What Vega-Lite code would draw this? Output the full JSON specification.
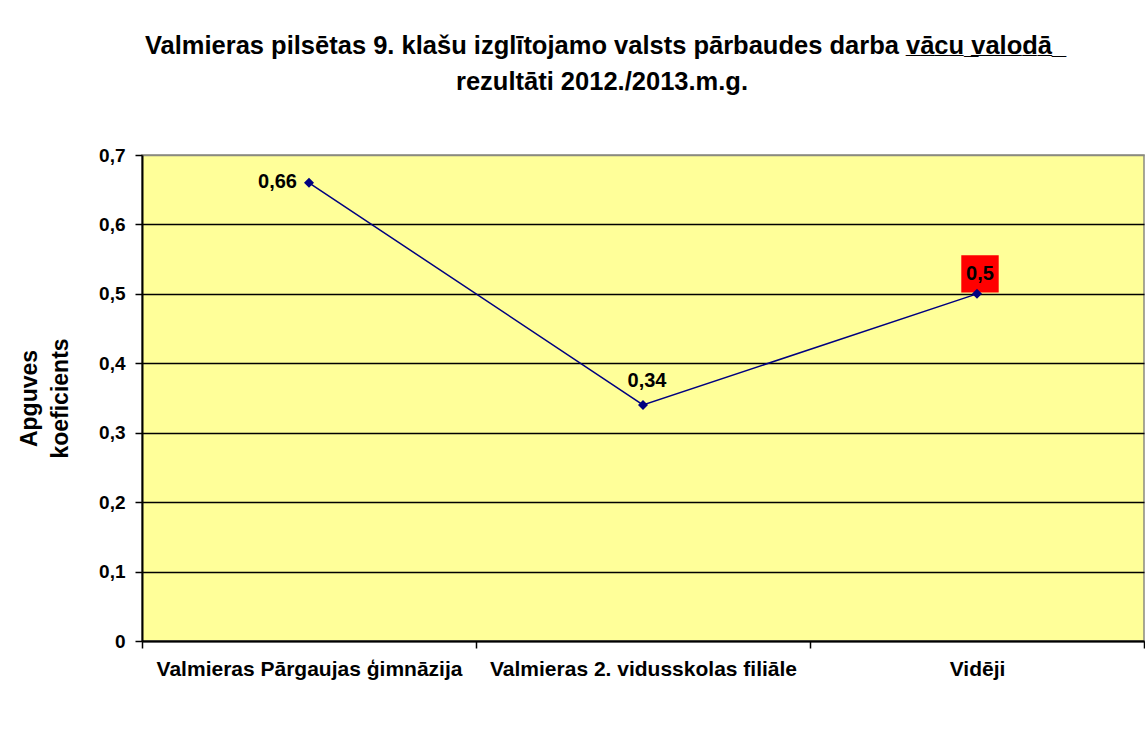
{
  "$schema": "https://vega.github.io/schema/vega-lite/v6.json",
  "width": 1002,
  "height": 486,
  "autosize": {"type": "none"},
  "padding": {"left": 142, "top": 155, "right": 1, "bottom": 103},
  "background": "white",
  "title": {
    "text": ["Valmieras pilsētas 9. klašu izglītojamo valsts pārbaudes darba v̲ā̲c̲u̲ ̲v̲a̲l̲o̲d̲ā̲ ̲", "rezultāti 2012./2013.m.g."],
    "font": "Liberation Sans",
    "fontSize": 25.5,
    "fontWeight": "bold",
    "color": "black",
    "anchor": "middle",
    "frame": "group",
    "dx": -41,
    "offset": 51,
    "lineHeight": 36
  },
  "data": {
    "values": [
      {"skola": "Valmieras Pārgaujas ģimnāzija", "koef": 0.66},
      {"skola": "Valmieras 2. vidusskolas filiāle", "koef": 0.34},
      {"skola": "Vidēji", "koef": 0.5}
    ]
  },
  "encoding": {
    "x": {
      "field": "skola",
      "type": "nominal",
      "sort": ["Valmieras Pārgaujas ģimnāzija", "Valmieras 2. vidusskolas filiāle", "Vidēji"],
      "scale": {"type": "band", "paddingInner": 0, "paddingOuter": 0},
      "axis": {
        "title": null,
        "labelAngle": 0,
        "tickBand": "extent",
        "labelFont": "Liberation Sans",
        "labelFontSize": 21,
        "labelFontWeight": "bold",
        "labelColor": "black",
        "labelPadding": 10,
        "labelLimit": 0,
        "tickColor": "black",
        "tickSize": 7,
        "tickWidth": 1.5,
        "domainColor": "black",
        "domainWidth": 2,
        "grid": false
      }
    },
    "y": {
      "field": "koef",
      "type": "quantitative",
      "scale": {"domain": [0, 0.7], "nice": false, "zero": true},
      "axis": {
        "values": [0, 0.1, 0.2, 0.3, 0.4, 0.5, 0.6, 0.7],
        "labelExpr": "datum.value == 0 ? '0' : replace(format(datum.value, '.1f'), '.', ',')",
        "labelFont": "Liberation Sans",
        "labelFontSize": 19,
        "labelFontWeight": "bold",
        "labelColor": "black",
        "labelPadding": 10,
        "tickColor": "black",
        "tickSize": 7,
        "tickWidth": 1.5,
        "domainColor": "black",
        "domainWidth": 2,
        "grid": true,
        "gridColor": {"condition": {"test": "datum.value == 0.7", "value": "#8a8a80"}, "value": "black"},
        "gridOpacity": 1,
        "gridWidth": 1.5,
        "title": ["Apguves", "koeficients"],
        "titleFont": "Liberation Sans",
        "titleFontSize": 23,
        "titleFontWeight": "bold",
        "titleColor": "black",
        "titleAngle": -90,
        "titleAlign": "center",
        "titleBaseline": "middle",
        "titleLineHeight": 31,
        "titleX": -113,
        "titleY": 243
      }
    }
  },
  "layer": [
    {
      "transform": [{"filter": "datum.skola == 'Vidēji'"}],
      "mark": {"type": "point", "shape": "square", "filled": true, "size": 1400, "color": "#FF0000", "opacity": 1, "xOffset": 3, "yOffset": -20}
    },
    {
      "mark": {"type": "line", "color": "#000080", "strokeWidth": 1.5}
    },
    {
      "mark": {"type": "point", "shape": "diamond", "filled": true, "size": 100, "color": "#000080", "opacity": 1}
    },
    {
      "transform": [{"filter": "datum.skola == 'Valmieras Pārgaujas ģimnāzija'"}],
      "mark": {"type": "text", "align": "right", "baseline": "middle", "dx": -12, "dy": -1, "font": "Liberation Sans", "fontSize": 20, "fontWeight": "bold", "color": "black", "text": {"expr": "replace(toString(datum.koef), '.', ',')"}}
    },
    {
      "transform": [{"filter": "datum.skola == 'Valmieras 2. vidusskolas filiāle'"}],
      "mark": {"type": "text", "align": "center", "baseline": "alphabetic", "dx": 4, "dy": -18, "font": "Liberation Sans", "fontSize": 20, "fontWeight": "bold", "color": "black", "text": {"expr": "replace(toString(datum.koef), '.', ',')"}}
    },
    {
      "transform": [{"filter": "datum.skola == 'Vidēji'"}],
      "mark": {"type": "text", "align": "center", "baseline": "alphabetic", "dx": 3, "dy": -14, "font": "Liberation Sans", "fontSize": 20, "fontWeight": "bold", "color": "black", "text": {"expr": "replace(toString(datum.koef), '.', ',')"}}
    }
  ],
  "config": {
    "view": {"fill": "#FFFF99", "stroke": "#8a8a80", "strokeWidth": 1.5}
  }
}
